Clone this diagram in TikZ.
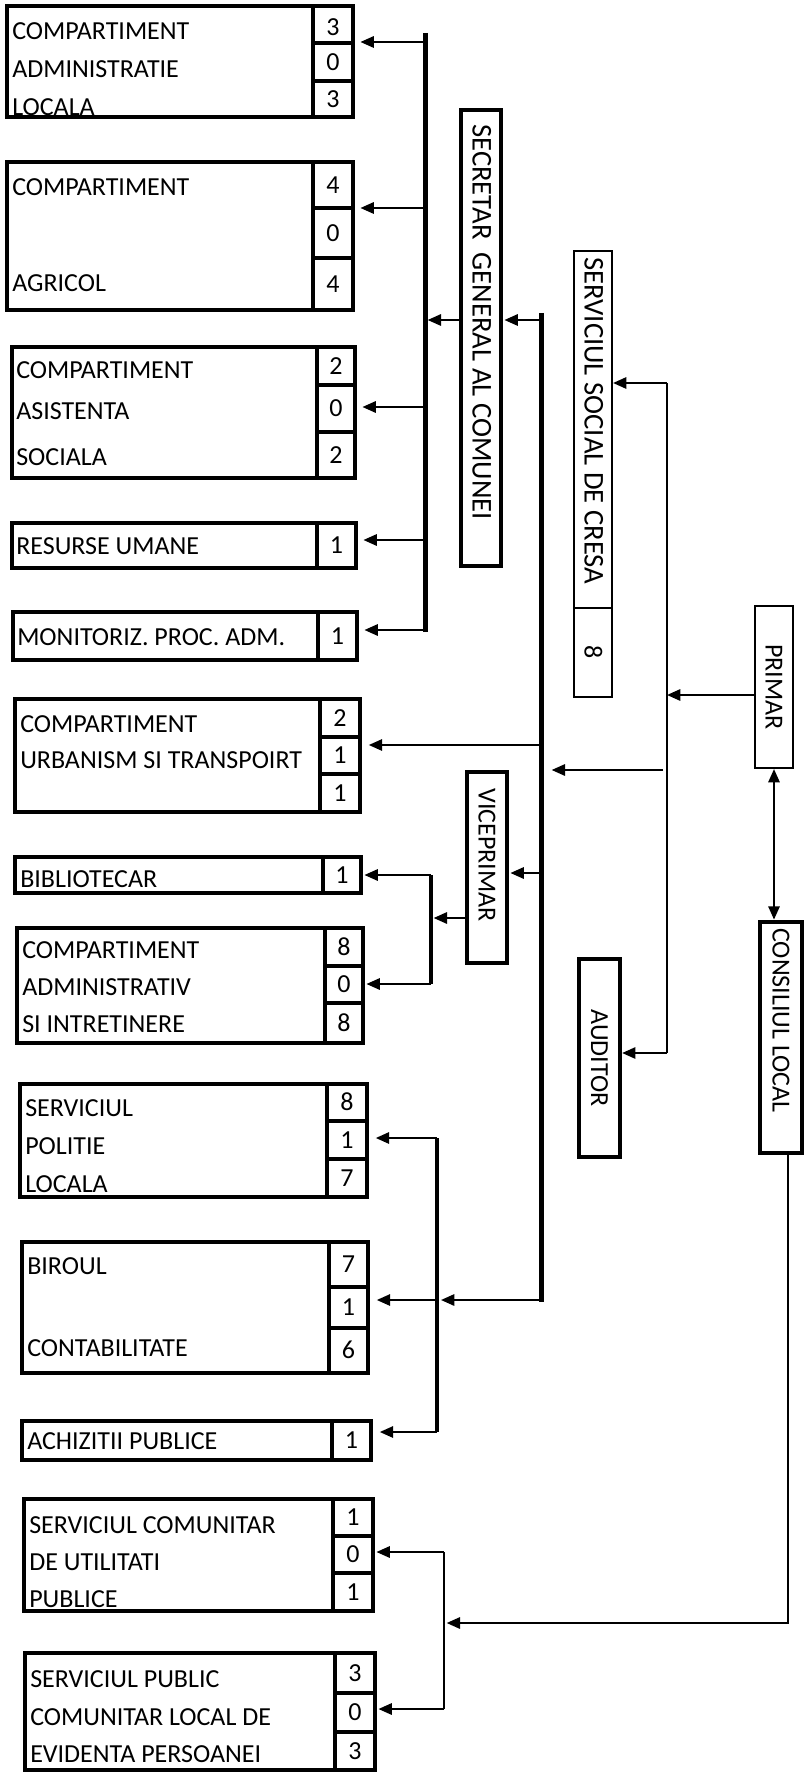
\documentclass[tikz,border=0pt]{standalone}
\usepackage{fontspec}
\setmainfont{Carlito}
\usetikzlibrary{arrows.meta,fit}
\newcommand\fsz{\fontsize{19.5}{23}\selectfont}
\newcommand\fszb{\fontsize{21.5}{25}\selectfont}
\begin{document}
\begin{tikzpicture}[x=0.75pt,y=-0.75pt,
  bx/.style={draw, line width=3.2pt, inner sep=0pt},
  thinbx/.style={draw, line width=1.6pt, inner sep=0pt},
  cellbx/.style={draw, line width=2.8pt, inner sep=0pt},
  num/.style={font=\fsz, inner sep=0pt, text height=12.5pt, text depth=0pt},
  lbl/.style={font=\fsz, inner sep=0pt, text height=12.5pt, text depth=0pt, anchor=west},
  rlbl/.style={lbl, rotate=-90},
  rclbl/.style={font=\fsz, inner sep=0pt, text height=12.5pt, text depth=0pt, rotate=-90},
  arr/.style={line width=1.5pt, -{Triangle[length=10pt,width=8.5pt]}},
  darr/.style={line width=1.5pt, {Triangle[length=10pt,width=8.5pt]}-{Triangle[length=10pt,width=8.5pt]}},
  bar/.style={line width=3.75pt},
  midbar/.style={line width=3pt},
  thinbar/.style={line width=1.8pt}
  ]
\fill[white] (0,0) rectangle (803,1772);
\useasboundingbox (0,0) rectangle (803,1772);

% ---------- left boxes ----------
% b1
\node[bx, fit={(7,6)(353,117)}] (b1) {};
\node[cellbx, fit={(313,6)(353,43)}] (b1a) {};
\node[cellbx, fit={(313,43)(353,81)}] (b1b) {};
\node[cellbx, fit={(313,81)(353,117)}] (b1c) {};
\node[num] (b1an) at ([yshift=-2pt]b1a.center) {3};
\node[num] (b1bn) at (b1b.center) {0};
\node[num] (b1cn) at (b1c.center) {3};
\node[lbl] (b1t1) at (12,31) {COMPARTIMENT};
\node[lbl] (b1t2) at (12,69) {ADMINISTRATIE};
\node[lbl] (b1t3) at (12,107) {LOCALA};
% b2
\node[bx, fit={(7,162)(353,310)}] (b2) {};
\node[cellbx, fit={(313,162)(353,208)}] (b2a) {};
\node[cellbx, fit={(313,208)(353,258)}] (b2b) {};
\node[cellbx, fit={(313,258)(353,310)}] (b2c) {};
\node[num] (b2an) at (b2a.center) {4};
\node[num] (b2bn) at (b2b.center) {0};
\node[num] (b2cn) at (b2c.center) {4};
\node[lbl] (b2t1) at (12,187) {COMPARTIMENT};
\node[lbl] (b2t3) at (12,283) {AGRICOL};
% b3
\node[bx, fit={(12,347)(355,478)}] (b3) {};
\node[cellbx, fit={(317,347)(355,385)}] (b3a) {};
\node[cellbx, fit={(317,385)(355,432)}] (b3b) {};
\node[cellbx, fit={(317,432)(355,478)}] (b3c) {};
\node[num] (b3an) at (b3a.center) {2};
\node[num] (b3bn) at (b3b.center) {0};
\node[num] (b3cn) at (b3c.center) {2};
\node[lbl] (b3t1) at (16,370) {COMPARTIMENT};
\node[lbl] (b3t2) at (16,411) {ASISTENTA};
\node[lbl] (b3t3) at (16,457) {SOCIALA};
% b4
\node[bx, fit={(12,523)(356,568)}] (b4) {};
\node[cellbx, fit={(317,523)(356,568)}] (b4a) {};
\node[num] (b4an) at (b4a.center) {1};
\node[lbl] (b4t1) at (16,546) {RESURSE UMANE};
% b5
\node[bx, fit={(13,612)(357,660)}] (b5) {};
\node[cellbx, fit={(318,612)(357,660)}] (b5a) {};
\node[num] (b5an) at (b5a.center) {1};
\node[lbl] (b5t1) at (17,637) {MONITORIZ. PROC. ADM.};
% b6
\node[bx, fit={(15,699)(360,812)}] (b6) {};
\node[cellbx, fit={(320,699)(360,737)}] (b6a) {};
\node[cellbx, fit={(320,737)(360,774)}] (b6b) {};
\node[cellbx, fit={(320,774)(360,812)}] (b6c) {};
\node[num] (b6an) at (b6a.center) {2};
\node[num] (b6bn) at (b6b.center) {1};
\node[num] (b6cn) at (b6c.center) {1};
\node[lbl] (b6t1) at (20,724) {COMPARTIMENT};
\node[lbl] (b6t2) at (20,760) {URBANISM SI TRANSPOIRT};
% b7
\node[bx, fit={(15,857)(361,893)}] (b7) {};
\node[cellbx, fit={(323,857)(361,893)}] (b7a) {};
\node[num] (b7an) at (b7a.center) {1};
\node[lbl] (b7t1) at (20,879) {BIBLIOTECAR};
% b8
\node[bx, fit={(17,928)(363,1043)}] (b8) {};
\node[cellbx, fit={(325,928)(363,966)}] (b8a) {};
\node[cellbx, fit={(325,966)(363,1003)}] (b8b) {};
\node[cellbx, fit={(325,1003)(363,1043)}] (b8c) {};
\node[num] (b8an) at (b8a.center) {8};
\node[num] (b8bn) at (b8b.center) {0};
\node[num] (b8cn) at (b8c.center) {8};
\node[lbl] (b8t1) at (22,950) {COMPARTIMENT};
\node[lbl] (b8t2) at (22,987) {ADMINISTRATIV};
\node[lbl] (b8t3) at (22,1024) {SI INTRETINERE};
% b9
\node[bx, fit={(20,1084)(367,1197)}] (b9) {};
\node[cellbx, fit={(327,1084)(367,1121)}] (b9a) {};
\node[cellbx, fit={(327,1121)(367,1159)}] (b9b) {};
\node[cellbx, fit={(327,1159)(367,1197)}] (b9c) {};
\node[num] (b9an) at (b9a.center) {8};
\node[num] (b9bn) at (b9b.center) {1};
\node[num] (b9cn) at (b9c.center) {7};
\node[lbl] (b9t1) at (25,1108) {SERVICIUL};
\node[lbl] (b9t2) at (25,1146) {POLITIE};
\node[lbl] (b9t3) at (25,1184) {LOCALA};
% b10
\node[bx, fit={(22,1242)(368,1373)}] (b10) {};
\node[cellbx, fit={(329,1242)(368,1287)}] (b10a) {};
\node[cellbx, fit={(329,1287)(368,1328)}] (b10b) {};
\node[cellbx, fit={(329,1328)(368,1373)}] (b10c) {};
\node[num] (b10an) at (b10a.center) {7};
\node[num] (b10bn) at (b10b.center) {1};
\node[num] (b10cn) at (b10c.center) {6};
\node[lbl] (b10t1) at (27,1266) {BIROUL};
\node[lbl] (b10t3) at (27,1348) {CONTABILITATE};
% b11
\node[bx, fit={(22,1421)(371,1460)}] (b11) {};
\node[cellbx, fit={(332,1421)(371,1460)}] (b11a) {};
\node[num] (b11an) at (b11a.center) {1};
\node[lbl] (b11t1) at (27,1441) {ACHIZITII PUBLICE};
% b12
\node[bx, fit={(24,1499)(373,1611)}] (b12) {};
\node[cellbx, fit={(333,1499)(373,1536)}] (b12a) {};
\node[cellbx, fit={(333,1536)(373,1573)}] (b12b) {};
\node[cellbx, fit={(333,1573)(373,1611)}] (b12c) {};
\node[num] (b12an) at (b12a.center) {1};
\node[num] (b12bn) at (b12b.center) {0};
\node[num] (b12cn) at (b12c.center) {1};
\node[lbl] (b12t1) at (29,1525) {SERVICIUL COMUNITAR};
\node[lbl] (b12t2) at (29,1562) {DE UTILITATI};
\node[lbl] (b12t3) at (29,1599) {PUBLICE};
% b13
\node[bx, fit={(25,1653)(375,1770)}] (b13) {};
\node[cellbx, fit={(335,1653)(375,1693)}] (b13a) {};
\node[cellbx, fit={(335,1693)(375,1732)}] (b13b) {};
\node[cellbx, fit={(335,1732)(375,1770)}] (b13c) {};
\node[num] (b13an) at (b13a.center) {3};
\node[num] (b13bn) at (b13b.center) {0};
\node[num] (b13cn) at (b13c.center) {3};
\node[lbl] (b13t1) at (30,1679) {SERVICIUL PUBLIC};
\node[lbl] (b13t2) at (30,1717) {COMUNITAR LOCAL DE};
\node[lbl] (b13t3) at (30,1754) {EVIDENTA PERSOANEI};

% ---------- vertical boxes ----------
\node[bx, fit={(461,110)(501,566)}] (sec) {};
\node[rlbl, font=\fszb] (sect) at (481,124) {SECRETAR\ \ GENERAL AL COMUNEI};
\node[thinbx, fit={(574,251)(612,697)}] (ssc) {};
\node[thinbx, fit={(574,608)(612,697)}] (ssc8) {};
\node[rlbl, font=\fszb] (ssct) at (593,257) {SERVICIUL SOCIAL DE CRESA};
\node[rclbl] (ssc8t) at (ssc8.center) {8};
\node[bx, fit={(467,772)(507,963)}] (vice) {};
\node[rlbl] (vicet) at (487,788) {VICEPRIMAR};
\node[thinbx, fit={(755,606)(793,768)}] (prim) {};
\node[rclbl] (primt) at (prim.center) {PRIMAR};
\node[bx, fit={(579,959)(620,1157)}] (aud) {};
\node[rclbl] (audt) at (aud.center) {AUDITOR};
\node[bx, line width=3.6pt, fit={(760,922)(802,1153)}] (cons) {};
\node[rlbl] (const) at (781,928) {CONSILIUL LOCAL};

% ---------- bar 1 (secretar) ----------
\coordinate (bar1t) at (425,33);
\coordinate (bar1b) at (425,632);
\draw[bar] (bar1t) -- (bar1b);
\coordinate (p1) at (425,42);
\coordinate (p2) at (425,208);
\coordinate (p3) at (425,407);
\coordinate (p4) at (425,540);
\coordinate (p5) at (425,630);
\foreach \p/\b in {p1/b1,p2/b2,p3/b3,p4/b4,p5/b5}
  \draw[arr, shorten >=4pt] (\p) -- (\p -| \b.east);
\coordinate (q1) at (425,320);
\draw[arr, shorten >=2pt] (sec.west |- q1) -- (q1);

% ---------- bar 2 ----------
\coordinate (bar2t) at (541,313);
\coordinate (bar2b) at (541,1300);
\draw[bar] (bar2t) -- ([yshift=-1.5pt]bar2b);
\coordinate (r1) at (541,320);
\coordinate (r2) at (541,745);
\coordinate (r3) at (541,873);
\draw[arr, shorten >=1pt] (r1) -- (r1 -| sec.east);
\draw[arr, shorten >=5pt] (r2) -- (r2 -| b6.east);
\draw[arr, shorten >=1pt] (r3) -- (r3 -| vice.east);

% ---------- viceprimar bar ----------
\coordinate (vbart) at (431,875);
\coordinate (vbarb) at (431,984);
\coordinate (v0) at (431,918);
\draw[midbar] (vbart) -- (vbarb);
\draw[arr, shorten >=2pt] (vice.west |- v0) -- (v0);
\draw[arr, shorten >=1pt] (vbart) -- (vbart -| b7.east);
\draw[arr, shorten >=1pt] (vbarb) -- (vbarb -| b8.east);

% ---------- primar line ----------
\coordinate (pl1) at (667,383);
\coordinate (pl2) at (667,1053);
\coordinate (pl3) at (667,695);
\coordinate (pl4) at (663,770);
\draw[line width=1.5pt] (pl1) -- (pl2);
\draw[arr] (pl1) -- (pl1 -| ssc.east);
\draw[arr] (pl2) -- (pl2 -| aud.east);
\draw[arr] (prim.west |- pl3) -- (pl3);
\draw[arr, shorten >=8pt] (pl4) -- (pl4 -| bar2t);
\draw[darr] (prim.south) -- (prim.south |- cons.north);

% ---------- police bar ----------
\coordinate (pbart) at (437,1138);
\coordinate (pbarb) at (437,1432);
\coordinate (pm) at (437,1300);
\draw[midbar] (pbart) -- (pbarb);
\draw[arr, shorten >=3pt] (bar2b) -- (pm);
\draw[arr, shorten >=5pt] (pbart) -- (pbart -| b9.east);
\draw[arr, shorten >=5pt] (pm) -- (pm -| b10.east);
\draw[arr, shorten >=5pt] (pbarb) -- (pbarb -| b11.east);

% ---------- bottom bar ----------
\coordinate (sbart) at (444,1552);
\coordinate (sbarb) at (444,1709);
\coordinate (sm) at (444,1623);
\coordinate (c1) at (788,1623);
\draw[thinbar] (sbart) -- (sbarb);
\draw[arr, shorten >=1pt] (sbart) -- (sbart -| b12.east);
\draw[arr, shorten >=1pt] (sbarb) -- (sbarb -| b13.east);
\draw[arr, shorten >=2pt] (c1 |- cons.south) -- (c1) -- (sm);
\end{tikzpicture}
\end{document}
